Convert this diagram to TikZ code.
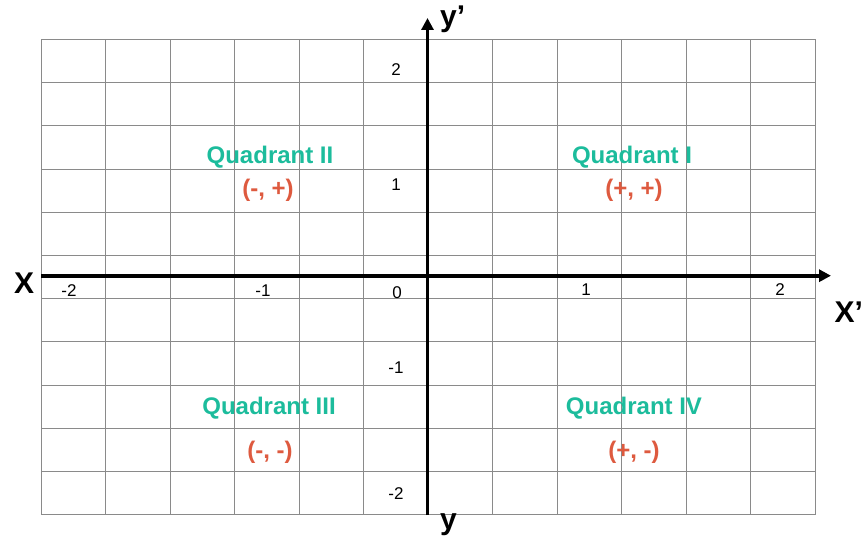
\documentclass[tikz,border=0pt]{standalone}
\usepackage{fontspec}
\setmainfont{Liberation Sans}
\usetikzlibrary{arrows.meta}
\definecolor{quad}{HTML}{1CBC9C}
\definecolor{sgn}{HTML}{DE5A3F}
\definecolor{gridc}{HTML}{8A8A8A}

\begin{document}
\begin{tikzpicture}[x=1pt, y=1pt, >={Triangle[length=12pt, width=12pt]},
  gridline/.style={draw=gridc, line width=1pt},
  axis/.style={->, line width=3.8pt, draw=black},
  qname/.style={font=\fontsize{24}{26}\selectfont\bfseries, text=quad, inner sep=0pt},
  qsign/.style={font=\fontsize{24}{26}\selectfont\bfseries, text=sgn, inner sep=0pt},
  tick/.style={font=\fontsize{17}{19}\selectfont, inner sep=0pt},
  axlab/.style={font=\fontsize{30}{32}\selectfont\bfseries, inner sep=0pt, anchor=base west}
]
\useasboundingbox (0,0) rectangle (864,536);
\fill[white] (0,0) rectangle (864,536);
% grid
\foreach \i in {0,...,12}
  \draw[gridline] ({41+64.5*\i},21.3) -- ++(0,475.2);
\foreach \j in {0,...,11}
  \draw[gridline] (41,{496.5-43.2*\j}) -- ++(774,0);
% axes
\coordinate (xl) at (41,260.3);
\coordinate (xr) at (831,260.3);
\coordinate (yb) at (427.5,21);
\coordinate (yt) at (427.5,518);
\draw[axis] (xl) -- (xr);
\draw[axis] (yb) -- (yt);
\node[axlab] (lx)  at (14,243)  {X};
\node[axlab] (lxp) at (834.5,214) {X’};
\node[axlab] (lyp) at (440,509) {y’};
\node[axlab] (ly)  at (440,7)   {y};
% ticks
\node[tick] (tm2) at (69,245)  {-2};
\node[tick] (tm1) at (263,245) {-1};
\node[tick] (t0)  at (397,243) {0};
\node[tick] (t1)  at (586,246) {1};
\node[tick] (t2)  at (780,246) {2};
\node[tick] (u2)  at (396,466) {2};
\node[tick] (u1)  at (396,351) {1};
\node[tick] (um1) at (396,168) {-1};
\node[tick] (um2) at (396,42)  {-2};
% quadrants
\node[qname] (q1) at (632,379) {Quadrant I};
\node[qsign] (s1) at (634,346) {(+, +)};
\node[qname] (q2) at (270,379) {Quadrant II};
\node[qsign] (s2) at (268,346) {(-, +)};
\node[qname] (q3) at (269,128) {Quadrant III};
\node[qsign] (s3) at (270,84)  {(-, -)};
\node[qname] (q4) at (634,128) {Quadrant IV};
\node[qsign] (s4) at (634,84)  {(+, -)};
\end{tikzpicture}
\end{document}
